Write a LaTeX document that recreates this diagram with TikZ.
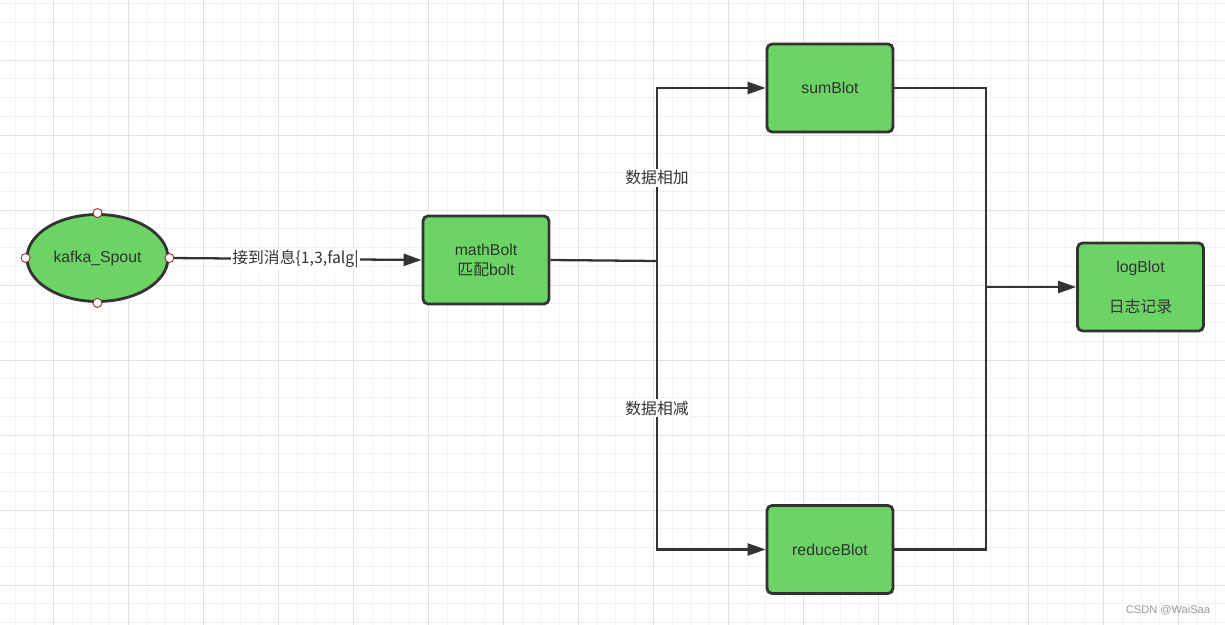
\documentclass[tikz,border=0pt]{standalone}
\usepackage{fontspec}
\setmainfont{Liberation Sans}
\newfontfamily\cjk{Noto Sans CJK SC}
\usetikzlibrary{arrows.meta,shapes.geometric}

\definecolor{boltgreen}{RGB}{108,212,100}
\definecolor{boltline}{RGB}{51,51,51}
\definecolor{gridminor}{RGB}{242,242,242}
\definecolor{gridmajor}{RGB}{226,226,226}
\definecolor{handle}{RGB}{150,40,40}

\begin{document}
\begin{tikzpicture}[x=0.02cm,y=-0.02cm,
        bolt/.style={draw=boltline,line width=1.6pt,fill=boltgreen,rounded corners=1mm,
            minimum width=2.52cm,minimum height=1.76cm,align=center,text=boltline,
            font=\fontsize{9}{11.4}\selectfont},
        flow/.style={draw=boltline,line width=1.3pt,-{Triangle[length=3.6mm,width=2.4mm]}},
        link/.style={draw=boltline,line width=1.3pt},
        tag/.style={fill=white,inner sep=1pt,text=boltline,font=\fontsize{9}{11.4}\selectfont\cjk},
        handledot/.style={circle,draw=handle,fill=white,line width=0.5pt,inner sep=0pt,minimum size=1.8mm}]
        % page size of the screenshot
        \useasboundingbox[fill=white] (0,0) rectangle (1225,625);

        % background grid, thin lines and every fourth one darker
        \foreach \gx in {0,...,64} \draw[gridminor,line width=0.5pt] ({15.8+18.75*\gx},0) -- ++(0,625);
        \foreach \gy in {0,...,33} \draw[gridminor,line width=0.5pt] (0,{3.75+18.75*\gy}) -- ++(1225,0);
        \foreach \gx in {0,...,15} \draw[gridmajor,line width=0.5pt] ({53.3+75*\gx},0) -- ++(0,625);
        \foreach \gy in {0,...,7} \draw[gridmajor,line width=0.5pt] (0,{60+75*\gy}) -- ++(1225,0);

        % the spout
        \node[ellipse,draw=boltline,line width=1.6pt,fill=boltgreen,minimum width=2.82cm,
              minimum height=1.74cm,inner sep=0pt,text=boltline,font=\fontsize{9}{11.4}\selectfont]
              (spout) at (97.5,258) {kafka\_Spout};

        % the bolts
        \node[bolt] (math) at (486,260) {mathBolt\\{\cjk 匹配}bolt};
        \node[bolt] (sum) at (830,88) {sumBlot};
        \node[bolt] (reduce) at (830,549.5) {reduceBlot};
        \node[bolt] (log) at (1140.5,287) {logBlot\\[11.4pt]{\cjk 日志记录}};

        % split and merge points of the lines
        \coordinate (split) at (657,261);
        \coordinate (merge) at (986,287);

        % message from the spout
        \draw[flow] (spout.east) -- node[tag]{接到消息\{1,3,falg|} (math.west);

        % to the two branches
        \draw[link] (math.east) -- (split);
        \draw[flow] (split) |- node[tag,pos=0.24]{数据相加} (sum.west);
        \draw[flow] (split) |- node[tag,pos=0.255]{数据相减} (reduce.west);

        % back together into the log
        \draw[link] (sum.east) -| (merge);
        \draw[link] (reduce.east) -| (merge);
        \draw[flow] (merge) -- (log.west);

        % selection handles of the ellipse
        \foreach \side in {north,south,east,west}
            \node[handledot] at (spout.\side) {};

        % watermark
        \node[text=gray!80,font=\fontsize{6.3}{7}\selectfont] (mark) at (1168,610) {CSDN @WaiSaa};
\end{tikzpicture}
\end{document}
